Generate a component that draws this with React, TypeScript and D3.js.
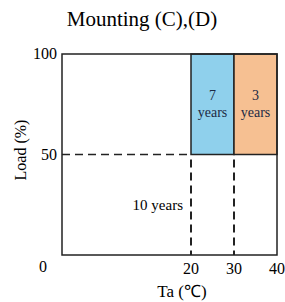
import React, { useEffect, useRef } from "react";
import * as d3 from "d3";

// zones: [x0, x1, y0, y1, colour]
const zoneStarts = [20, 30];
const zoneEnds = [30, 40];
const zoneColors = ["#8fd0ec", "#f6c092"];
const zoneYears = ["7", "3"];
const xTicks = [20, 30, 40];
const yTicks = [50, 100];
const dashX = [20, 30];
const dashY = 50;

export default function App() {
  const ref = useRef<SVGSVGElement | null>(null);

  useEffect(() => {
    const svg = d3.select(ref.current);
    svg.selectAll("*").remove();

    const left = 62, right = 277, top = 54, bottom = 255;
    const x = d3.scaleLinear().domain([-10, 40]).range([left, right]);
    const y = d3.scaleLinear().domain([0, 100]).range([bottom, top]);
    const font = "'Liberation Serif', 'Times New Roman', serif";

    // title
    svg.append("text")
      .attr("x", 142).attr("y", 26)
      .attr("text-anchor", "middle")
      .style("font-family", font).style("font-size", "21px")
      .text("Mounting (C),(D)");

    // coloured zones
    zoneStarts.forEach((s, i) => {
      svg.append("rect")
        .attr("x", x(s)).attr("y", y(100))
        .attr("width", x(zoneEnds[i]) - x(s))
        .attr("height", y(50) - y(100))
        .attr("fill", zoneColors[i])
        .attr("stroke", "#222").attr("stroke-width", 1.5);
      const cx = (x(s) + x(zoneEnds[i])) / 2;
      svg.append("text")
        .attr("x", cx).attr("y", 100)
        .attr("text-anchor", "middle")
        .style("font-family", font).style("font-size", "14px")
        .attr("fill", "#1c2a44")
        .text(zoneYears[i]);
      svg.append("text")
        .attr("x", cx).attr("y", 117)
        .attr("text-anchor", "middle")
        .style("font-family", font).style("font-size", "14px")
        .attr("fill", "#1c2a44")
        .text("years");
    });

    // dashed boundaries
    svg.append("line")
      .attr("x1", x(-10)).attr("x2", x(20))
      .attr("y1", y(dashY)).attr("y2", y(dashY))
      .attr("stroke", "#222").attr("stroke-width", 1.5)
      .attr("stroke-dasharray", "8,5");
    dashX.forEach(v => {
      svg.append("line")
        .attr("x1", x(v)).attr("x2", x(v))
        .attr("y1", y(dashY) + 5).attr("y2", y(0))
        .attr("stroke", "#222").attr("stroke-width", 2)
        .attr("stroke-dasharray", "8,5");
    });

    // frame
    svg.append("rect")
      .attr("x", left).attr("y", top)
      .attr("width", right - left).attr("height", bottom - top)
      .attr("fill", "none")
      .attr("stroke", "#222").attr("stroke-width", 1.5);

    svg.append("text")
      .attr("x", 183).attr("y", 210)
      .attr("text-anchor", "end")
      .style("font-family", font).style("font-size", "15px")
      .text("10 years");

    // axes labels
    svg.selectAll(".xt").data(xTicks).enter().append("text")
      .attr("x", d => x(d)).attr("y", 274)
      .attr("text-anchor", "middle")
      .style("font-family", font).style("font-size", "16px")
      .text(d => d);
    svg.selectAll(".yt").data(yTicks).enter().append("text")
      .attr("x", 57).attr("y", d => y(d) + 5)
      .attr("text-anchor", "end")
      .style("font-family", font).style("font-size", "16px")
      .text(d => d);
    svg.append("text")
      .attr("x", 43).attr("y", 272)
      .attr("text-anchor", "middle")
      .style("font-family", font).style("font-size", "16px")
      .text("0");

    svg.append("text")
      .attr("x", 182).attr("y", 297)
      .attr("text-anchor", "middle")
      .style("font-family", font).style("font-size", "17px")
      .text("Ta (\u2103)");
    svg.append("text")
      .attr("transform", "translate(26,150) rotate(-90)")
      .attr("text-anchor", "middle")
      .style("font-family", font).style("font-size", "16px")
      .text("Load (%)");
  }, []);

  return (
    <svg ref={ref} width={285} height={302}
      style={{ position: "absolute", left: 0, top: 0, background: "#fff" }} />
  );
}
